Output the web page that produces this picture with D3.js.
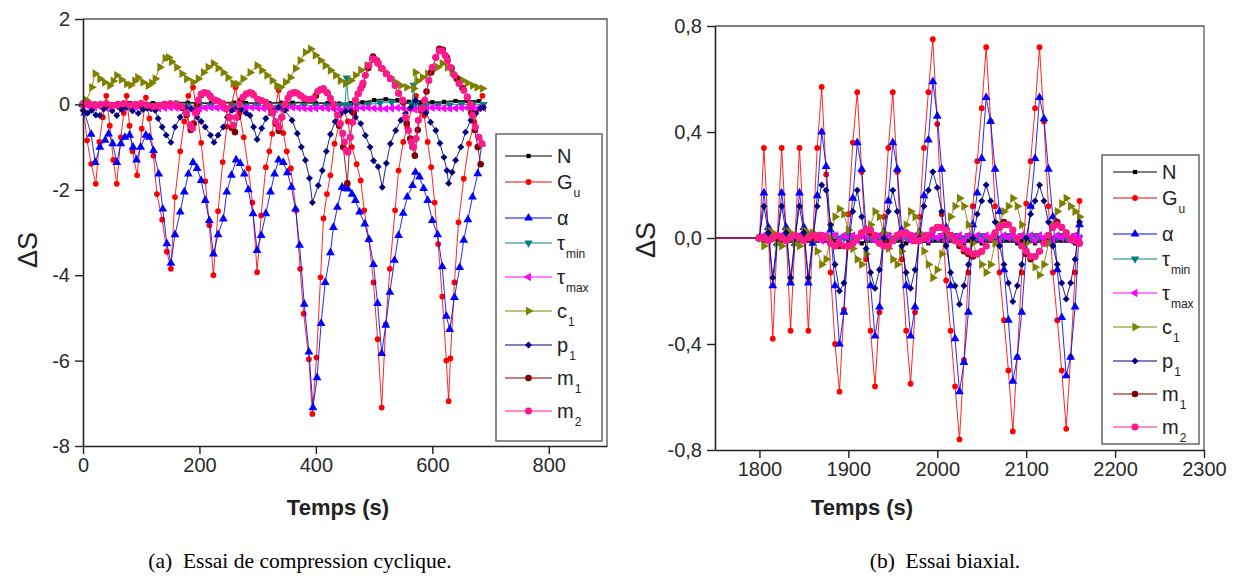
<!DOCTYPE html>
<html><head><meta charset="utf-8">
<script src="https://cdn.jsdelivr.net/npm/d3@7"></script>
<style>body{margin:0;background:#fff}svg{display:block}</style>
</head><body><svg id="c" width="1236" height="582"></svg>
<script>
// ---------------- DATA ----------------
const seriesKeys = ["N","Gu","alpha","tmin","tmax","c1","p1","m1","m2"];
const legendMain = ["N","G","α","τ","τ","c","p","m","m"];
const legendSub  = ["","u","","min","max","1","1","1","2"];
const seriesColors = ["#000000","#ff0000","#0000ff","#008080","#ff00ff","#808000","#000080","#800000","#ff1a8c"];

// Panel (a): [time, ΔS] pairs
const N_a = [[0,0],[20,0.02],[40,0.03],[60,0.03],[80,0.03],[100,0.04],[120,0.03],[140,0.03],[160,0.04],[180,0.04],[200,0.03],[220,0.03],[240,0.04],[260,0.04],[280,0.03],[300,0.03],[320,0.03],[340,0.04],[360,0.04],[380,0.04],[400,0.03],[420,0.03],[440,0.02],[460,0.03],[480,0.05],[500,0.1],[520,0.12],[540,0.1],[560,0.06],[580,0.05],[600,0.05],[620,0.06],[640,0.08],[660,0.08],[680,0.08]];
const Gu_a = [[0,0],[7,-0.84],[14,-1.39],[22,-1.86],[28,-0.88],[34,-0.3],[40,0.2],[46,-0.5],[52,-1.3],[58,-1.86],[65,-0.77],[70,-0.2],[75,0.2],[80,-0.5],[85,-1.1],[93,-1.66],[101,-0.57],[108,0.16],[114,-0.33],[121,-1.2],[127,-2.1],[136,-2.7],[144,-3.45],[151,-3.85],[158,-2.17],[167,-1.1],[174,-0.4],[181,0.2],[189,0.4],[196,-0.2],[203,-0.9],[210,-1.8],[217,-2.83],[224,-4.0],[232,-2.5],[240,-1.35],[247,-0.52],[255,0.0],[262,0.4],[269,-0.2],[276,-0.77],[284,-1.5],[291,-2.3],[299,-3.93],[306,-2.6],[314,-1.47],[320,-1.1],[325,-0.69],[330,-0.1],[336,0.33],[344,-0.67],[350,-1.1],[357,-1.5],[366,-2.48],[373,-3.85],[379,-4.9],[388,-5.97],[394,-7.25],[401,-5.93],[408,-4.05],[413,-2.67],[419,-2.1],[425,-1.66],[432,-0.92],[440,-0.45],[448,-0.15],[455,-0.4],[462,-1.0],[470,-1.4],[477,-1.78],[483,-2.48],[491,-3.17],[499,-4.17],[506,-5.5],[513,-7.1],[520,-5.15],[527,-3.85],[536,-2.48],[542,-1.55],[550,-0.88],[557,-0.55],[564,-0.1],[572,0.2],[580,-0.15],[586,-0.26],[592,-0.88],[598,-1.47],[604,-2.3],[610,-3.27],[617,-4.5],[624,-6.0],[628,-6.95],[631,-5.95],[638,-4.17],[645,-2.76],[654,-1.74],[663,-0.92],[672,-0.41],[680,-0.1],[686,0.2]];
const alpha_a = [[0,0],[3,-0.2],[14,-0.7],[21,-1.36],[29,-1.0],[38,-0.84],[44,-0.69],[51,-0.92],[58,-1.36],[65,-0.92],[72,-0.77],[80,-0.72],[86,-1.0],[92,-1.3],[99,-1.0],[108,-0.72],[114,-0.77],[121,-1.08],[130,-1.63],[137,-2.45],[144,-3.26],[151,-3.72],[158,-3.05],[167,-2.52],[174,-2.05],[181,-1.63],[189,-1.36],[196,-1.5],[203,-1.78],[210,-2.25],[217,-2.72],[224,-3.5],[232,-3.05],[241,-2.68],[247,-2.05],[255,-1.66],[263,-1.3],[270,-1.38],[277,-1.63],[284,-2.0],[292,-2.56],[299,-3.42],[306,-3.07],[314,-2.56],[322,-2.05],[329,-1.63],[336,-1.3],[344,-1.36],[351,-1.6],[358,-1.94],[365,-2.45],[372,-3.3],[380,-4.68],[388,-5.8],[395,-7.1],[402,-6.4],[409,-5.13],[416,-4.17],[425,-3.47],[430,-2.88],[437,-2.41],[445,-1.94],[450,-1.97],[455,-1.98],[462,-2.1],[468,-2.25],[475,-2.52],[484,-2.8],[491,-3.16],[499,-3.75],[506,-4.66],[513,-5.83],[520,-5.17],[527,-4.4],[535,-3.65],[542,-3.07],[550,-2.55],[557,-2.17],[566,-1.9],[571,-1.59],[578,-1.7],[585,-1.97],[592,-2.25],[600,-2.72],[609,-3.05],[617,-3.8],[624,-4.96],[630,-5.27],[638,-4.52],[647,-3.82],[654,-3.18],[661,-2.7],[669,-2.17],[678,-1.62],[685,-0.92]];
const tmin_a = [[0,0],[20,-0.03],[40,-0.02],[60,-0.03],[80,-0.02],[100,-0.03],[120,-0.03],[140,-0.02],[160,-0.03],[180,-0.03],[200,-0.02],[220,-0.03],[240,-0.03],[260,-0.02],[280,-0.03],[300,-0.03],[320,-0.02],[340,-0.03],[360,-0.03],[380,-0.02],[400,-0.03],[420,-0.03],[440,-0.02],[450,-0.02],[453,0.62],[456,-0.02],[470,-0.02],[490,0.0],[510,0.03],[530,0.05],[550,0.03],[565,0.0],[568,0.45],[571,0.0],[590,-0.02],[610,-0.02],[630,-0.01],[650,0.0],[670,0.0],[688,0.0]];
const tmax_a = [[0,0],[10,-0.05],[20,-0.07],[30,-0.06],[40,-0.08],[50,-0.07],[60,-0.06],[70,-0.08],[80,-0.07],[90,-0.06],[100,-0.08],[110,-0.07],[120,-0.08],[130,-0.09],[140,-0.08],[150,-0.07],[160,-0.08],[170,-0.09],[180,-0.1],[190,-0.12],[200,-0.1],[210,-0.08],[220,-0.07],[230,-0.08],[240,-0.09],[250,-0.1],[260,-0.11],[270,-0.09],[280,-0.08],[290,-0.07],[300,-0.08],[310,-0.09],[320,-0.1],[330,-0.11],[340,-0.1],[350,-0.08],[360,-0.07],[370,-0.08],[380,-0.09],[390,-0.1],[400,-0.09],[410,-0.08],[420,-0.09],[430,-0.1],[440,-0.11],[450,-0.12],[460,-0.1],[470,-0.09],[480,-0.08],[490,-0.08],[500,-0.09],[510,-0.1],[520,-0.1],[530,-0.09],[540,-0.08],[550,-0.09],[560,-0.1],[570,-0.12],[580,-0.1],[590,-0.09],[600,-0.08],[610,-0.08],[620,-0.09],[630,-0.1],[640,-0.09],[650,-0.08],[660,-0.08],[670,-0.09],[680,-0.08],[688,-0.08]];
const c1_a = [[0,0],[6,0.1],[15,0.4],[21,0.72],[29,0.6],[37,0.52],[46,0.44],[52,0.55],[58,0.68],[66,0.58],[75,0.48],[82,0.45],[89,0.55],[94,0.63],[103,0.52],[112,0.44],[118,0.5],[124,0.6],[132,0.87],[141,1.08],[147,1.1],[152,1.0],[161,0.87],[170,0.72],[178,0.6],[189,0.52],[198,0.6],[207,0.75],[215,0.87],[224,0.96],[232,0.85],[241,0.75],[249,0.63],[258,0.49],[265,0.48],[275,0.6],[287,0.75],[299,0.91],[307,0.8],[316,0.68],[325,0.56],[333,0.44],[339,0.4],[348,0.52],[356,0.63],[365,0.84],[373,1.03],[382,1.22],[391,1.3],[399,1.15],[408,1.03],[416,0.91],[425,0.8],[434,0.68],[442,0.56],[451,0.49],[460,0.56],[468,0.68],[477,0.8],[488,0.91],[497,1.03],[505,1.0],[511,0.87],[520,0.75],[528,0.63],[537,0.52],[546,0.44],[556,0.4],[568,0.37],[571,0.75],[575,0.55],[583,0.63],[592,0.72],[600,0.8],[609,0.87],[617,0.96],[626,0.87],[634,0.75],[643,0.63],[652,0.56],[660,0.5],[669,0.44],[677,0.4],[686,0.37]];
const p1_a = [[0,-0.14],[8,-0.2],[15,-0.14],[22,-0.25],[29,-0.26],[36,-0.1],[43,-0.02],[50,-0.15],[58,-0.26],[66,-0.12],[75,-0.07],[85,-0.15],[95,-0.21],[103,-0.12],[110,-0.09],[117,-0.1],[124,-0.14],[129,-0.33],[136,-0.53],[143,-0.72],[151,-0.89],[158,-0.53],[167,-0.3],[176,-0.08],[186,-0.1],[196,-0.3],[203,-0.4],[210,-0.53],[219,-0.72],[225,-0.89],[232,-0.72],[241,-0.53],[248,-0.3],[256,-0.14],[265,-0.07],[272,-0.12],[280,-0.2],[287,-0.26],[293,-0.53],[299,-0.82],[307,-0.56],[314,-0.33],[325,-0.14],[336,-0.07],[347,-0.14],[359,-0.37],[368,-0.68],[375,-1.0],[382,-1.31],[389,-1.73],[394,-2.3],[404,-1.9],[411,-1.55],[418,-1.1],[425,-0.7],[433,-0.4],[442,-0.23],[451,-0.16],[460,-0.16],[468,-0.3],[477,-0.45],[485,-0.73],[493,-1.0],[499,-1.32],[507,-1.46],[514,-1.94],[521,-1.38],[528,-0.92],[537,-0.61],[546,-0.37],[554,-0.21],[563,-0.07],[571,0.1],[580,-0.07],[589,-0.2],[597,-0.42],[606,-0.61],[613,-0.91],[620,-1.24],[625,-1.55],[628,-1.85],[634,-1.59],[640,-1.31],[649,-1.0],[657,-0.65],[666,-0.37],[675,-0.21],[683,-0.09],[688,-0.07]];
const m1_a = [[0,0],[20,-0.02],[40,0.0],[60,-0.02],[80,0.0],[100,0.0],[120,-0.05],[140,0.0],[160,0.0],[170,-0.08],[178,-0.25],[185,-0.6],[190,-0.45],[196,0.0],[203,0.22],[210,0.27],[218,0.2],[226,0.1],[240,0.02],[250,-0.3],[256,-0.55],[261,-0.65],[266,-0.3],[272,0.1],[280,0.24],[290,0.26],[300,0.12],[314,0.04],[324,-0.2],[331,-0.45],[336,-0.62],[342,-0.3],[348,0.0],[356,0.24],[364,0.28],[374,0.2],[387,0.12],[400,0.2],[410,0.35],[420,0.26],[430,0.0],[440,-0.5],[447,-1.0],[454,-1.85],[459,-0.77],[465,-0.2],[472,0.25],[480,0.45],[490,0.85],[498,1.12],[505,1.02],[514,0.84],[528,0.6],[542,0.26],[550,0.05],[556,-0.45],[562,-0.8],[566,-1.0],[570,-1.2],[575,-0.6],[582,-0.1],[590,0.3],[598,0.75],[606,1.1],[612,1.3],[618,1.28],[625,1.1],[633,0.85],[642,0.6],[652,0.38],[660,0.17],[667,-0.2],[673,-0.6],[678,-1.0],[683,-1.4]];
const m2_a = [[0,0],[10,0.02],[20,-0.02],[30,0.0],[40,0.02],[50,-0.03],[60,0.0],[70,0.02],[80,-0.02],[90,0.0],[100,0.02],[110,-0.02],[120,-0.05],[130,-0.03],[140,0.0],[150,0.02],[160,0.0],[170,-0.05],[178,-0.2],[184,-0.49],[188,-0.56],[193,-0.2],[198,0.1],[203,0.24],[208,0.28],[214,0.26],[220,0.16],[226,0.1],[232,0.08],[240,0.02],[246,-0.1],[252,-0.3],[258,-0.49],[263,-0.3],[268,0.0],[275,0.17],[281,0.25],[287,0.28],[293,0.22],[300,0.12],[307,0.09],[314,0.05],[320,-0.05],[326,-0.2],[331,-0.4],[336,-0.53],[341,-0.3],[347,0.0],[352,0.15],[357,0.25],[362,0.28],[368,0.26],[374,0.2],[380,0.14],[387,0.12],[396,0.14],[403,0.3],[408,0.35],[413,0.37],[419,0.28],[425,0.14],[431,0.0],[437,-0.25],[442,-0.45],[446,-0.68],[449,-0.88],[452,-1.08],[455,-1.12],[459,-0.77],[463,-0.42],[468,0.1],[473,0.25],[477,0.37],[481,0.5],[485,0.68],[491,0.91],[497,1.07],[502,1.05],[507,0.96],[514,0.84],[521,0.72],[528,0.6],[536,0.44],[542,0.26],[549,0.1],[554,-0.3],[559,-0.61],[564,-0.88],[568,-1.0],[572,-0.8],[576,-0.37],[582,-0.1],[587,0.1],[594,0.56],[600,0.87],[606,1.1],[612,1.25],[617,1.25],[622,1.15],[626,1.03],[631,0.87],[638,0.68],[646,0.49],[654,0.33],[660,0.17],[665,0.0],[669,-0.26],[674,-0.53],[680,-0.77],[685,-0.92]];

// Panel (b): shared time axis and ΔS values
const tB = [1750,
  1800,1805,1810,1815,1820,1825,1830,1835,1840,1845,
  1850,1855,1860,1865,1870,1875,1880,1885,1890,1895,
  1900,1905,1910,1915,1920,1925,1930,1935,1940,1945,
  1950,1955,1960,1965,1970,1975,1980,1985,1990,1995,
  2000,2005,2010,2015,2020,2025,2030,2035,2040,2045,
  2050,2055,2060,2065,2070,2075,2080,2085,2090,2095,
  2100,2105,2110,2115,2120,2125,2130,2135,2140,2145,
  2150,2155,2160];
const N_b = [0,
  0,-0.01,-0.01,0,-0.01,-0.01,0,-0.01,-0.01,-0.01,
  0,-0.01,-0.01,-0.01,0,-0.01,-0.01,-0.01,-0.01,0,
  -0.01,-0.01,-0.01,-0.02,-0.01,-0.01,-0.01,-0.01,-0.02,-0.01,
  -0.01,-0.01,-0.01,-0.02,-0.01,-0.01,-0.01,-0.01,-0.02,-0.01,
  -0.01,-0.01,-0.02,-0.01,-0.01,-0.01,-0.02,-0.01,-0.01,-0.01,
  -0.02,-0.01,-0.01,-0.01,-0.02,-0.01,-0.01,-0.01,-0.02,-0.01,
  -0.01,-0.01,-0.02,-0.01,-0.01,-0.01,-0.02,-0.01,-0.01,-0.01,
  -0.01,-0.02,-0.01];
const Gu_b = [0,
  0.0,0.34,0.02,-0.38,0.0,0.34,0.02,-0.35,0.0,0.34,
  0.02,-0.35,0.0,0.34,0.57,0.24,-0.13,-0.4,-0.58,-0.27,
  0.09,0.36,0.55,0.25,-0.08,-0.35,-0.56,-0.28,0.08,0.34,
  0.55,0.25,-0.08,-0.35,-0.55,-0.28,0.08,0.34,0.55,0.75,
  0.43,0.09,-0.16,-0.35,-0.56,-0.76,-0.46,-0.13,0.12,0.29,
  0.49,0.72,0.44,0.12,-0.13,-0.31,-0.5,-0.73,-0.45,-0.13,
  0.13,0.29,0.49,0.72,0.44,0.12,-0.13,-0.31,-0.5,-0.72,
  -0.45,-0.13,0.14];
const alpha_b = [0,
  0.0,0.17,0.04,-0.18,-0.02,0.17,0.04,-0.17,-0.02,0.17,
  0.04,-0.17,-0.02,0.16,0.4,0.27,0.03,-0.18,-0.4,-0.28,
  0.0,0.15,0.36,0.26,0.03,-0.18,-0.37,-0.26,0.02,0.14,
  0.36,0.26,0.03,-0.18,-0.37,-0.26,0.02,0.16,0.37,0.59,
  0.46,0.26,0.04,-0.18,-0.38,-0.58,-0.47,-0.28,0.05,0.17,
  0.3,0.53,0.44,0.26,0.1,-0.12,-0.31,-0.54,-0.45,-0.28,
  -0.05,0.12,0.3,0.53,0.45,0.26,0.08,-0.12,-0.3,-0.52,
  -0.45,-0.26,0.05];
const tmin_b = [0,
  0,0,0.01,0,0,0.01,0,0,0.01,0,
  0,0.01,0,0,0.01,0,0,0.01,0,0,
  0.01,0,0,0.01,0,0,0.01,0,0,0.01,
  0,0,0.01,0,0,0.01,0,0,0.01,0,
  0,0.01,0,0,0.01,0,0,0.01,0,0,
  0.01,0,0,0.01,0,0,0.01,0,0,0.01,
  0,0,0.01,0,0,0.01,0,0,0.01,0,
  0,0.01,0];
const tmax_b = [0,
  0.0,0.01,-0.01,0.01,0.0,0.01,-0.01,0.01,0.0,0.01,
  -0.01,0.01,0.0,0.01,-0.01,0.01,0.0,0.01,-0.01,0.01,
  0.0,0.01,-0.01,0.01,0.0,0.01,-0.01,0.01,0.0,0.01,
  -0.01,0.01,0.0,0.01,-0.01,0.01,0.0,0.01,-0.01,0.01,
  0.0,0.01,-0.01,0.01,0.0,0.01,-0.01,0.01,0.0,0.01,
  -0.01,0.01,0.0,0.01,-0.01,0.01,0.0,0.01,-0.01,0.01,
  0.0,0.01,-0.01,0.01,0.0,0.01,-0.01,0.01,0.0,0.01,
  -0.01,0.01,0.0];
const c1_b = [0,
  0.0,-0.03,0.03,0.02,-0.02,-0.03,0.03,0.02,-0.02,-0.03,
  0.03,0.02,0.02,-0.05,-0.1,-0.08,0.0,0.08,0.11,0.09,
  0.03,-0.04,-0.08,-0.1,-0.06,0.05,0.1,0.08,0.02,-0.04,
  -0.08,-0.1,-0.05,0.05,0.1,0.08,0.02,-0.05,-0.1,-0.15,
  -0.12,-0.06,0.02,0.08,0.12,0.15,0.12,0.05,-0.02,-0.06,
  -0.1,-0.13,-0.1,-0.02,0.05,0.1,0.12,0.15,0.12,0.05,
  -0.02,-0.07,-0.11,-0.14,-0.1,-0.02,0.05,0.1,0.13,0.15,
  0.12,0.1,0.08];
const p1_b = [0,
  0.0,0.12,0.02,-0.15,0.0,0.12,0.02,-0.15,0.0,0.12,
  0.02,-0.15,0.0,0.12,0.2,0.18,0.05,-0.1,-0.2,-0.17,
  -0.03,0.1,0.18,0.08,-0.04,-0.13,-0.19,-0.12,0.0,0.1,
  0.18,0.1,-0.03,-0.13,-0.19,-0.12,0.0,0.12,0.18,0.25,
  0.19,0.1,-0.03,-0.13,-0.18,-0.25,-0.18,-0.1,0.0,0.09,
  0.14,0.2,0.14,0.06,-0.03,-0.1,-0.17,-0.24,-0.18,-0.1,
  0.0,0.09,0.14,0.2,0.14,0.06,-0.03,-0.1,-0.17,-0.23,
  -0.17,-0.08,0.06];
const m1_b = [0,
  0.0,0.0,-0.01,0.0,0.0,0.0,-0.01,0.0,0.01,0.0,
  -0.01,0.0,0.0,0.0,0.01,0.0,-0.02,-0.03,-0.03,-0.03,
  -0.03,-0.02,0.0,0.02,0.03,0.02,0.01,-0.02,-0.03,-0.02,
  -0.01,0.01,0.02,0.02,0.01,-0.01,-0.01,0.0,0.01,0.03,
  0.04,0.04,0.03,0.01,-0.01,-0.03,-0.05,-0.06,-0.07,-0.06,
  -0.05,-0.03,0.0,0.02,0.04,0.06,0.05,0.03,0.0,-0.03,
  -0.06,-0.08,-0.07,-0.05,-0.02,0.01,0.04,0.06,0.04,0.02,
  0.0,-0.01,-0.02];
const m2_b = [0,
  0.0,0.0,-0.01,0.0,0.01,0.0,-0.01,0.0,0.01,0.0,
  -0.01,0.0,0.01,0.0,0.01,0.0,-0.02,-0.03,-0.02,-0.03,
  -0.03,-0.02,0.0,0.02,0.03,0.03,0.01,-0.02,-0.03,-0.03,
  -0.01,0.01,0.02,0.02,0.01,-0.01,-0.01,0.0,0.01,0.03,
  0.04,0.04,0.03,0.01,-0.01,-0.02,-0.04,-0.05,-0.06,-0.06,
  -0.05,-0.03,0.0,0.02,0.04,0.05,0.05,0.03,0.0,-0.03,
  -0.05,-0.07,-0.07,-0.05,-0.02,0.01,0.04,0.05,0.04,0.02,
  0.0,-0.01,-0.02];

// Axis ticks / labels
const xMajorA = [0,200,400,600,800], xMinorA = [100,300,500,700,900];
const yMajorA = [-8,-6,-4,-2,0,2], yMinorA = [-7,-5,-3,-1,1];
const xMajorB = [1800,1900,2000,2100,2200,2300], xMinorB = [1850,1950,2050,2150,2250];
const yMajorB = [-0.8,-0.4,0,0.4,0.8], yMinorB = [-0.6,-0.2,0.2,0.6];
const xTitle = "Temps (s)", yTitle = "ΔS";
const captions = ["(a)  Essai de compression cyclique.", "(b)  Essai biaxial."];

// ---------------- DRAW ----------------
const SANS = "Arial, 'Liberation Sans', sans-serif";
const SERIF = "'Liberation Serif', 'Times New Roman', serif";
const svg = d3.select("#c");
const symTypes = {
  N:{t:d3.symbolSquare,r:0,s:18}, Gu:{t:d3.symbolCircle,r:0,s:26}, alpha:{t:d3.symbolTriangle,r:0,s:34},
  tmin:{t:d3.symbolTriangle,r:180,s:30}, tmax:{t:d3.symbolTriangle,r:-90,s:30}, c1:{t:d3.symbolTriangle,r:90,s:34},
  p1:{t:d3.symbolSquare,r:45,s:24}, m1:{t:d3.symbolCircle,r:0,s:34}, m2:{t:d3.symbolCircle,r:0,s:40}
};
const symPath = k => d3.symbol().type(symTypes[k].t).size(symTypes[k].s)();

function panel(p) {
  const x = d3.scaleLinear().domain(p.xd).range(p.xr);
  const y = d3.scaleLinear().domain(p.yd).range(p.yr);
  const g = svg.append("g");
  g.append("path").attr("d", `M${p.xr[0]},${p.yr[1]}H${p.xr[1]}V${p.yr[0]}`)
    .attr("fill","none").attr("stroke","#555").attr("stroke-width",1.3);
  p.series.forEach((s) => {
    const col = seriesColors[seriesKeys.indexOf(s.key)];
    const line = d3.line().x(d=>x(d[0])).y(d=>y(d[1]));
    g.append("path").datum(s.data).attr("d",line).attr("fill","none")
      .attr("stroke",col).attr("stroke-width", s.key==="N"?1.8:1).attr("stroke-opacity",0.85);
    const sp = symPath(s.key), rot = symTypes[s.key].r;
    g.append("g").selectAll("path").data(s.data.filter(d=>d[0]>=p.markFrom)).join("path")
      .attr("d",sp).attr("fill",col)
      .attr("transform",d=>`translate(${x(d[0])},${y(d[1])}) rotate(${rot})`);
  });
  const ax = (gen) => gen.tickSizeOuter(0);
  const gx = g.append("g").attr("transform",`translate(0,${p.yr[0]})`);
  gx.call(ax(d3.axisBottom(x).tickValues(p.xMinor).tickSize(4).tickFormat("")));
  gx.call(ax(d3.axisBottom(x).tickValues(p.xMajor).tickSize(8).tickPadding(4).tickFormat(p.fx)));
  const gy = g.append("g").attr("transform",`translate(${p.xr[0]},0)`);
  gy.call(ax(d3.axisLeft(y).tickValues(p.yMinor).tickSize(4).tickFormat("")));
  gy.call(ax(d3.axisLeft(y).tickValues(p.yMajor).tickSize(8).tickPadding(5).tickFormat(p.fy)));
  [gx,gy].forEach(a=>{
    a.attr("font-size",20).attr("font-family",SANS);
    a.selectAll(".domain").attr("stroke","#222").attr("stroke-width",1.6);
    a.selectAll(".tick line").attr("stroke","#222").attr("stroke-width",1.4);
    a.selectAll("text").attr("font-size",20).attr("fill","#2a2a2a").attr("font-family",SANS);
  });
  svg.append("text").attr("x",p.xt[0]).attr("y",p.xt[1]).attr("text-anchor","middle")
    .attr("font-family",SANS).attr("font-size",22).attr("font-weight","bold").attr("fill","#222").text(xTitle);
  svg.append("text").attr("transform",`translate(${p.yt[0]},${p.yt[1]}) rotate(-90)`).attr("text-anchor","middle")
    .attr("font-family",SANS).attr("font-size",27).attr("fill","#222").text(yTitle);
  svg.append("text").attr("x",p.cap[0]).attr("y",p.cap[1]).attr("text-anchor","middle")
    .attr("font-family",SERIF).attr("font-size",21.5).attr("fill","#000")
    .style("white-space","pre").text(p.caption);
  const L = p.leg;
  svg.append("rect").attr("x",L.x).attr("y",L.y).attr("width",L.w).attr("height",L.h)
    .attr("fill","#fff").attr("stroke","#666").attr("stroke-width",1.5);
  const offs = [0,26,62,87,121,155,189,222,255];
  seriesKeys.forEach((k,i)=>{
    const yy = L.y0 + offs[i], col = seriesColors[i];
    svg.append("line").attr("x1",L.lx).attr("x2",L.lx+L.lw).attr("y1",yy).attr("y2",yy).attr("stroke",col).attr("stroke-width",1);
    svg.append("path").attr("d",symPath(k)).attr("fill",col)
      .attr("transform",`translate(${L.lx+L.lw/2},${yy}) rotate(${symTypes[k].r})`);
    const t = svg.append("text").attr("x",L.tx).attr("y",yy+7).attr("font-family",SANS).attr("font-size",20).attr("fill","#222");
    t.append("tspan").text(legendMain[i]);
    if (legendSub[i]) t.append("tspan").attr("font-size",12).attr("dy",8).attr("dx",1).text(legendSub[i]);
  });
}

const commaFmt = d => d3.format(".1f")(d).replace("\u2212","-").replace(".",",");
const toPairs = arr => tB.map((t,i)=>[t,arr[i]]);

panel({
  xd:[0,900], xr:[83,607], yd:[-8,2], yr:[446,19], markFrom:0,
  xMajor:xMajorA, xMinor:xMinorA, yMajor:yMajorA, yMinor:yMinorA,
  fx:d3.format("d"), fy:d=>String(d),
  series:[{key:"N",data:N_a},{key:"Gu",data:Gu_a},{key:"alpha",data:alpha_a},{key:"tmin",data:tmin_a},{key:"tmax",data:tmax_a},{key:"c1",data:c1_a},{key:"p1",data:p1_a},{key:"m1",data:m1_a},{key:"m2",data:m2_a}],
  xt:[338,515], yt:[37,250], cap:[300,568], caption:captions[0],
  leg:{x:496,y:134,w:106,h:307,y0:156,lx:505,lw:47,tx:557}
});
panel({
  xd:[1750,2300], xr:[715,1204], yd:[-0.8,0.8], yr:[450,26], markFrom:1800,
  xMajor:xMajorB, xMinor:xMinorB, yMajor:yMajorB, yMinor:yMinorB,
  fx:d3.format("d"), fy:commaFmt,
  series:[{key:"N",data:toPairs(N_b)},{key:"Gu",data:toPairs(Gu_b)},{key:"alpha",data:toPairs(alpha_b)},{key:"tmin",data:toPairs(tmin_b)},{key:"tmax",data:toPairs(tmax_b)},{key:"c1",data:toPairs(c1_b)},{key:"p1",data:toPairs(p1_b)},{key:"m1",data:toPairs(m1_b)},{key:"m2",data:toPairs(m2_b)}],
  xt:[862,515], yt:[655,240], cap:[945,568], caption:captions[1],
  leg:{x:1102,y:155,w:97,h:289,y0:172,lx:1113,lw:44,tx:1162}
});
</script></body></html>
